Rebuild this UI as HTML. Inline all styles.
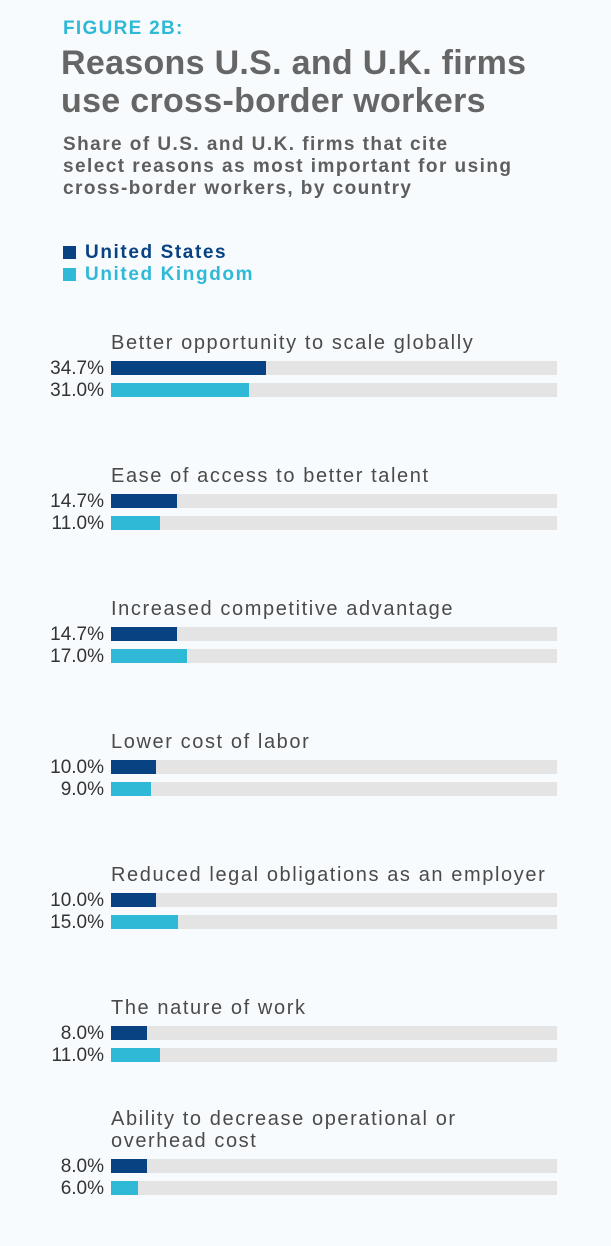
<!DOCTYPE html>
<html><head><meta charset="utf-8"><style>
body{margin:0;width:611px;height:1246px;background:#f8fbfd;font-family:"Liberation Sans",sans-serif;position:relative;overflow:hidden}
.a{position:absolute;white-space:nowrap}
.fig{left:63px;top:18px;font-size:19px;font-weight:bold;color:#2fb9d6;letter-spacing:1.3px}
.t{left:61px;font-size:34px;font-weight:bold;color:#666;letter-spacing:0.3px}
.s{left:63px;font-size:19px;font-weight:bold;color:#5e5e5e;letter-spacing:1.45px}
.lg{left:85px;font-size:19px;font-weight:bold;letter-spacing:1.6px}
.sq{position:absolute;left:63px;width:13px;height:13px}
.lab{left:111px;font-size:20px;color:#4a4a4a;letter-spacing:1.6px}
.pct{right:507px;font-size:19px;color:#333;text-align:right}
.tr{position:absolute;left:111px;width:446px;height:14px;background:#e4e4e4}
.b{position:absolute;left:0;top:0;height:14px}
</style></head><body>
<div class="a fig">FIGURE 2B:</div>
<div class="a t" style="top:44px">Reasons U.S. and U.K. firms</div>
<div class="a t" style="top:82px">use cross-border workers</div>
<div class="a s" style="top:134px">Share of U.S. and U.K. firms that cite</div>
<div class="a s" style="top:156px">select reasons as most important for using</div>
<div class="a s" style="top:178px">cross-border workers, by country</div>
<div class="sq" style="top:246px;background:#084282"></div>
<div class="a lg" style="top:242px;color:#084282">United States</div>
<div class="sq" style="top:268px;background:#2fb9d6"></div>
<div class="a lg" style="top:264px;color:#2fb9d6">United Kingdom</div>
<div id="c"></div>
<script>
var d=[["Better opportunity to scale globally",34.7,31.0],["Ease of access to better talent",14.7,11.0],["Increased competitive advantage",14.7,17.0],["Lower cost of labor",10.0,9.0],["Reduced legal obligations as an employer",10.0,15.0],["The nature of work",8.0,11.0],["Ability to decrease operational or<br>overhead cost",8.0,6.0]];
var h="";
d.forEach(function(r,i){var y=361+133*i;var two=r[0].indexOf("<br>")>0;
h+='<div class="a lab" style="top:'+(y-29-(two?22:0))+'px;line-height:22px">'+r[0]+'</div>';
[[r[1],"#084282",0],[r[2],"#2fb9d6",22]].forEach(function(v){
h+='<div class="a pct" style="top:'+(y+v[2]-3)+'px">'+v[0].toFixed(1)+'%</div>';
h+='<div class="tr" style="top:'+(y+v[2])+'px"><div class="b" style="width:'+(v[0]*4.46)+'px;background:'+v[1]+'"></div></div>';});});
document.getElementById("c").innerHTML=h;
</script>
</body></html>
